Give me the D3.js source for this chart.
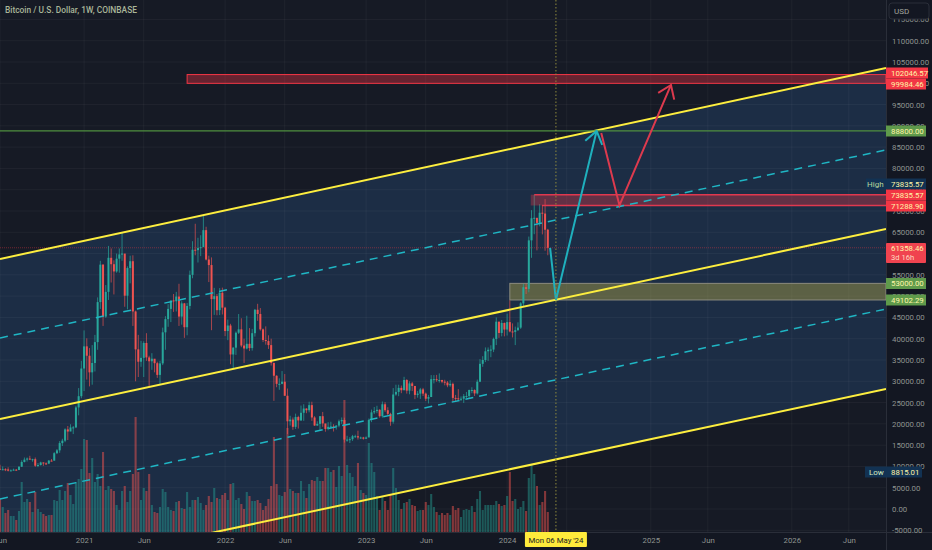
<!DOCTYPE html>
<html><head><meta charset="utf-8">
<script src="https://cdn.jsdelivr.net/npm/d3@7"></script>
<style>html,body{margin:0;padding:0;background:#161a25;overflow:hidden}svg{display:block}text{font-family:Roboto,"Liberation Sans",sans-serif}</style>
</head><body><svg id="c" width="932" height="550"></svg>
<script>
const firstWeek = "2020-06-01";
const close2020 = [9300,9340,9300,9000,9070,9240,9170,9930,11050,11600,11850,11650,11700,10170,10330,10930,10720,10670,11370,11360,13110,13780,15480,16050,18700,18200,19150,19170,23860,26500,33000];
const close2021 = [38200,36000,32100,34300,39200,48600,57400,45200,51000,59000,57500,55800,58800,59800,60000,50100,56600,58200,46400,37500,34600,35500,39000,35600,34700,35300,34250,31500,34200,41500,44600,47000,49000,48800,49900,45200,48300,42700,47700,55000,60900,60800,61300,61500,65500,58600,57300,49300,50000,46700,50800,47300];
const close2022 = [41800,43100,36300,37900,41400,42200,38400,37700,38800,37800,41300,46800,45800,42200,39700,39450,38500,34300,31300,29400,29400,29900,26600,20600,21000,19300,21600,20800,22600,23600,23200,24400,21500,19600,20000,21800,20100,18800,19300,19400,19300,19600,20600,20900,16300,16300,16400,17100,17100,16800,16800,16500];
const close2023 = [16800,20900,22700,23000,23300,21800,24600,23200,22350,20500,26900,27500,28450,27900,30300,27800,29500,28900,26800,27100,28100,27100,25900,26300,30500,30500,30300,30300,29900,29700,29050,29400,26100,26000,25850,25900,26500,26550,27950,27950,27150,29900,34100,35000,37050,37400,37450,39950,44000,41350,43700,42150];
const close2024 = [43900,41700,41600,42000,42600,48300,52100,51700,63100,68300,68400,67200,69600,69400,65600,61358.46];
const high2020 = [10400,10000,9580,9800,9300,9480,9400,10050,11450,12100,12100,12500,11800,12100,10800,11100,10950,10950,11500,11750,13350,14100,15950,16500,18950,19500,19900,19500,24250,28400,34800];
const low2020 = [9400,9100,8900,8815.01,8900,9050,9000,9130,9880,10950,11150,11500,11100,9900,9830,10200,10130,10350,10550,11200,11350,12900,13200,14800,15700,16200,18300,17600,19000,22000,26000];
const high2021 = [41950,40100,37800,38500,40900,49700,58300,57500,52600,61800,61200,58400,60000,61200,64850,57500,57000,59500,59600,46600,40900,39500,39400,41300,36000,36600,35100,34600,34800,42600,45300,48100,48200,50500,51000,52900,48800,48400,48400,56000,62900,67000,63700,64300,69000,66300,59500,59100,51950,50500,51900,52000];
const low2021 = [27700,30400,28800,29200,32300,37400,47000,43000,44900,49100,53200,50400,55500,55500,58300,47500,46900,53000,43000,30000,31000,33400,31000,34800,28800,32700,32100,30800,29300,33800,37400,42800,43900,46300,46400,43000,43300,40200,40800,46900,54200,59600,57900,59400,62300,58400,53300,42000,45600,45500,45550,45700];
const high2022 = [47500,44500,43500,38000,41700,45800,44800,40000,45400,42500,42300,47000,48200,47200,42400,42900,40800,40000,34400,31400,30700,32400,31700,28300,21900,21500,22400,21900,24300,24600,23650,25200,25200,21800,20600,21800,22800,19950,20400,20500,19900,19700,21000,21500,21450,17200,16850,17400,17450,18400,17000,16950];
const low2022 = [40600,39650,34000,32900,36200,41100,38000,34300,37500,37100,37200,40500,44200,41900,39200,38600,37600,33700,25400,28600,28000,29300,26600,17600,19600,18600,18800,18900,20700,20700,22500,22700,20700,19550,19550,18500,19300,18150,18500,19000,18200,18650,19200,20000,15600,15800,15500,16000,16700,16300,16450,16300];
const high2023 = [17050,21250,23350,23950,24250,23450,25250,25100,23900,22600,28400,29200,29200,29000,31050,30500,30000,29850,28900,27700,28450,28450,27350,26800,31450,31450,31500,31850,30350,30350,30050,30250,29700,26800,28150,26450,27000,27500,28050,28600,28100,30400,35200,35900,37950,37950,38450,40250,45000,44000,44400,43800];
const low2023 = [16500,17100,20400,22300,22500,21450,21450,22800,21900,19550,20050,26600,26500,27200,27900,27100,26950,27700,25800,26150,25850,26550,25350,24800,26300,29500,29900,29700,29550,29050,28600,28700,25200,25350,25350,25350,24900,26000,25950,27200,26550,26900,29800,33400,34500,34800,35650,36850,38500,40200,40550,40550];
const high2024 = [45900,49000,43600,42850,43850,48600,52850,52950,64000,70200,73835.57,68100,71600,71350,72800,65800];
const low2024 = [40750,41500,40300,38500,41850,42300,47700,50500,50900,59000,64550,60750,66400,64500,60650,59600];
const volume = [34,25,19,22,16,16,12,21,50,30,33,30,20,40,23,20,18,16,17,17,32,31,42,32,41,49,37,28,50,53,63,
 93,92,59,74,50,58,46,80,42,46,43,41,27,22,41,46,30,41,58,115,60,32,44,41,58,27,20,19,25,43,40,25,22,21,30,31,24,23,40,25,32,32,35,29,22,27,36,30,44,34,33,
 37,39,32,48,49,32,34,28,23,40,36,31,31,32,29,22,26,33,46,95,48,37,36,40,104,43,41,39,39,51,41,34,48,52,51,55,
 51,51,64,64,60,62,45,66,56,132,67,59,55,46,69,42,39,37,89,69,60,36,22,36,31,22,38,64,44,32,23,29,30,33,27,26,21,22,22,30,27,38,25,20,17,19,17,19,17,26,22,24,15,22,23,22,26,20,33,41,22,27,27,27,27,31,28,26,27,36,
 60,31,33,23,25,31,21,54,68,58,46,27,30,41,20];

const priceTicks = d3.range(-5000,115001,5000);
const timeTicks = ["2020-06-01","2021-01-04","2021-06-07","2022-01-03","2022-06-06","2023-01-02","2023-06-05","2024-01-01","2024-06-03","2025-01-06","2025-06-02","2026-01-05","2026-06-01"];
const timeLabels = ["Jun","2021","Jun","2022","Jun","2023","Jun","2024","Jun","2025","Jun","2026","Jun"];
const channelStart = "2020-06-01", channelEnd = "2026-09-05";
const upperLine = [58730,103590], midLine = [21140,65770], lowerLine = [-16210,28190];
const dashUpper = [40170,84330], dashLower = [2350,46980];
const redZoneA = {from:"2021-09-27",top:102046.57,bottom:99984.46};
const redZoneB = {from:"2024-03-02",topFrom:"2024-03-11",bottomFrom:"2024-03-31",top:73835.57,bottom:71288.90};
const oliveZone = {from:"2024-01-08",top:53000,bottom:49102.29};
const greenLevel = 88800, lastPrice = 61358.46, crossDate = "2024-05-06";
const cyanDates = ["2024-04-21","2024-05-06","2024-08-19"], cyanPrices = [61358,49102.29,88800];
const redDates = ["2024-08-31","2024-10-17","2025-02-27"], redPrices = [88300,71288.9,99600];
const title = "Bitcoin / U.S. Dollar, 1W, COINBASE";

const W=932,H=550,paneR=886,paneB=532,fs=7.8;
const parse=d3.utcParse("%Y-%m-%d");
const x=d3.scaleUtc().domain([parse(channelStart),parse(channelEnd)]).range([0,paneR]);
const y=d3.scaleLinear().domain([0,110000]).range([509,40.7]);
const vy=d3.scaleLinear().domain([0,100]).range([paneB,paneB-100]);
const closes=[...close2020,...close2021,...close2022,...close2023,...close2024];
const highs=[...high2020,...high2021,...high2022,...high2023,...high2024];
const lows=[...low2020,...low2021,...low2022,...low2023,...low2024];
const bars=closes.map((c,i)=>({d:d3.utcMonday.offset(parse(firstWeek),i),o:i?closes[i-1]:9450,c,h:highs[i],l:lows[i],v:volume[i]}));

const svg=d3.select("#c");
const defs=svg.append("defs");
defs.append("clipPath").attr("id","pane").append("rect").attr("width",paneR).attr("height",paneB);
svg.append("rect").attr("width",W).attr("height",H).attr("fill","#161a25");
const pane=svg.append("g").attr("clip-path","url(#pane)");

const cs=parse(channelStart),ce=parse(channelEnd);
pane.append("path").attr("fill","#1c2d45")
 .attr("d",d3.line()([[x(cs),y(upperLine[0])],[x(ce),y(upperLine[1])],[x(ce),y(lowerLine[1])],[x(cs),y(lowerLine[0])]])+"Z");

pane.append("g").selectAll("line").data(priceTicks).join("line")
 .attr("x1",0).attr("x2",paneR).attr("y1",d=>y(d)).attr("y2",d=>y(d)).attr("stroke","rgba(255,255,255,.045)");
pane.append("g").selectAll("line").data(timeTicks).join("line")
 .attr("x1",d=>x(parse(d))).attr("x2",d=>x(parse(d))).attr("y1",0).attr("y2",paneB).attr("stroke","rgba(255,255,255,.045)");

pane.append("line").attr("x1",0).attr("x2",paneR).attr("y1",y(lastPrice)).attr("y2",y(lastPrice))
 .attr("stroke","rgba(242,54,69,.42)").attr("stroke-dasharray","1 1");

pane.append("g").selectAll("rect").data(bars).join("rect")
 .attr("x",d=>x(d.d)-1.05).attr("width",2.1).attr("y",d=>vy(d.v)).attr("height",d=>paneB-vy(d.v))
 .attr("fill",d=>d.c>=d.o?"rgba(38,166,154,.45)":"rgba(239,83,80,.5)");

function zone(z,fill,stroke,sw){
 pane.append("rect").attr("x",x(parse(z.from))).attr("width",paneR-x(parse(z.from))).attr("y",y(z.top)).attr("height",y(z.bottom)-y(z.top))
  .attr("fill",fill).attr("stroke",stroke).attr("stroke-width",sw);
}
zone(redZoneA,"rgba(242,54,69,.36)","#f23645",1);
zone(oliveZone,"rgba(180,170,70,.42)","#8b8b7e",1);

const cg=pane.append("g");
cg.selectAll("line").data(bars).join("line")
 .attr("x1",d=>x(d.d)).attr("x2",d=>x(d.d)).attr("y1",d=>y(d.h)).attr("y2",d=>y(d.l))
 .attr("stroke",d=>d.c>=d.o?"rgba(38,166,154,.7)":"rgba(239,83,80,.65)").attr("stroke-width",1);
cg.selectAll("rect").data(bars).join("rect")
 .attr("x",d=>x(d.d)-1).attr("width",2).attr("y",d=>Math.min(y(d.o),y(d.c))).attr("height",d=>Math.max(1,Math.abs(y(d.o)-y(d.c))))
 .attr("fill",d=>d.c>=d.o?"#28a79b":"#ef5350");

zone(redZoneB,"rgba(242,54,69,.33)","none",0);
pane.append("line").attr("x1",x(parse(redZoneB.topFrom))).attr("x2",paneR).attr("y1",y(redZoneB.top)).attr("y2",y(redZoneB.top)).attr("stroke","#e0384f").attr("stroke-width",1.5);
pane.append("line").attr("x1",x(parse(redZoneB.bottomFrom))).attr("x2",paneR).attr("y1",y(redZoneB.bottom)).attr("y2",y(redZoneB.bottom)).attr("stroke","#e0384f").attr("stroke-width",1.5);

const chan=(v,color,w,dash)=>pane.append("line").attr("x1",x(cs)).attr("x2",x(ce)).attr("y1",y(v[0])).attr("y2",y(v[1]))
 .attr("stroke",color).attr("stroke-width",w).attr("stroke-dasharray",dash||null);
chan(dashUpper,"#1fb6c4",1.5,"8 6");chan(dashLower,"#1fb6c4",1.5,"8 6");
chan(upperLine,"#fdee3f",2);chan(midLine,"#fdee3f",2);chan(lowerLine,"#fdee3f",2);

pane.append("line").attr("x1",0).attr("x2",paneR).attr("y1",y(greenLevel)).attr("y2",y(greenLevel)).attr("stroke","#4f8f3f").attr("stroke-width",1.2);

svg.append("line").attr("x1",x(parse(crossDate))).attr("x2",x(parse(crossDate))).attr("y1",0).attr("y2",paneB)
 .attr("stroke","#8f8a3d").attr("stroke-dasharray","1.5 2");

function arrow(ds,ps,color){
 const pts=ds.map((d,i)=>[x(parse(d)),y(ps[i])]);
 pane.append("path").attr("d",d3.line()(pts)).attr("fill","none").attr("stroke",color).attr("stroke-width",2);
 const [a,b]=pts.slice(-2),ang=Math.atan2(b[1]-a[1],b[0]-a[0]),L=15;
 const head=[[b[0]-L*Math.cos(ang-.62),b[1]-L*Math.sin(ang-.62)],b,[b[0]-L*Math.cos(ang+.62),b[1]-L*Math.sin(ang+.62)]];
 pane.append("path").attr("d",d3.line()(head)).attr("fill","none").attr("stroke",color).attr("stroke-width",2);
}
arrow(cyanDates,cyanPrices,"#1fb0bd");
arrow(redDates,redPrices,"#dd3a4e");

svg.append("rect").attr("x",paneR).attr("width",W-paneR).attr("height",H).attr("fill","#131722");
svg.append("rect").attr("y",paneB).attr("width",W).attr("height",H-paneB).attr("fill","#131722");
svg.append("line").attr("x1",paneR+.5).attr("x2",paneR+.5).attr("y1",0).attr("y2",H).attr("stroke","#2a2e39");
svg.append("line").attr("x1",0).attr("x2",W).attr("y1",paneB+.5).attr("y2",paneB+.5).attr("stroke","#2a2e39");

const yAxis=d3.axisRight(y).tickValues(priceTicks).tickSize(0).tickPadding(6).tickFormat(d=>d.toFixed(2));
const ya=svg.append("g").attr("transform",`translate(${paneR},0)`).call(yAxis);
ya.select(".domain").remove();
ya.selectAll("text").attr("fill","#8f9490").style("font-size",fs+"px").style("font-family","Roboto");
const xAxis=d3.axisBottom(x).tickValues(timeTicks.map(parse)).tickSize(0).tickPadding(5)
 .tickFormat((d,i)=>timeLabels[i]);
const xa=svg.append("g").attr("transform",`translate(0,${paneB})`).call(xAxis);
xa.select(".domain").remove();
xa.selectAll("text").attr("fill","#8f9490").style("font-size",fs+"px").style("font-family","Roboto");

svg.append("rect").attr("x",889).attr("y",3).attr("width",40).attr("height",16).attr("rx",3).attr("fill","#131722").attr("stroke","#2a2e39");
svg.append("text").attr("x",894).attr("y",14).attr("fill","#a3a69f").attr("font-size",8).text("USD");

svg.append("text").attr("x",5).attr("y",13).attr("fill","#a9b699").attr("font-size",8.4).attr("font-weight",500).text(title);

const tagText="#fff6a8";
function tag(bg,cy,str,w,h){
 h=h||11;w=w||40;
 svg.append("rect").attr("x",paneR).attr("y",cy-h/2).attr("width",w).attr("height",h).attr("fill",bg);
 svg.append("text").attr("x",paneR+5).attr("y",cy+2.9).attr("fill",tagText).attr("font-size",fs).text(str);
}
tag("#f23645",73,"102046.57",42);
tag("#f23645",84,"99984.46",40);
tag("#5f9a4b",131,"88800.00",40);
tag("#123253",184,"73835.57",40);
tag("#f23645",195,"73835.57",40);
tag("#f23645",206,"71288.90",40);
svg.append("rect").attr("x",paneR).attr("y",243).attr("width",40).attr("height",20).attr("rx",1).attr("fill","#f0434f");
svg.append("text").attr("x",paneR+5).attr("y",250.8).attr("fill",tagText).attr("font-size",fs).text("61358.46");
svg.append("text").attr("x",paneR+5).attr("y",260).attr("fill","#ffd9c0").attr("font-size",7.6).text("3d 16h");
tag("#5f9a4b",283.5,"53000.00",40);
tag("#5f9a4b",300,"49102.29",40);
tag("#123253",472,"8815.01",36);
svg.append("rect").attr("x",866).attr("y",178.5).attr("width",20).attr("height",11).attr("fill","#123253");
svg.append("text").attr("x",867).attr("y",187).attr("fill","#b9d59a").attr("font-size",8).text("High");
svg.append("rect").attr("x",865).attr("y",466.5).attr("width",21).attr("height",11).attr("fill","#123253");
svg.append("text").attr("x",869).attr("y",475).attr("fill","#d7ecc0").attr("font-size",8).text("Low");

const cx=x(parse(crossDate));
svg.append("rect").attr("x",cx-31).attr("y",paneB).attr("width",62).attr("height",15).attr("rx",1).attr("fill","#ffeb3b");
svg.append("text").attr("x",cx).attr("y",paneB+11).attr("text-anchor","middle").attr("fill","#222").attr("font-size",fs)
 .text(d3.utcFormat("%a %d %b '%y")(parse(crossDate)));
</script></body></html>
